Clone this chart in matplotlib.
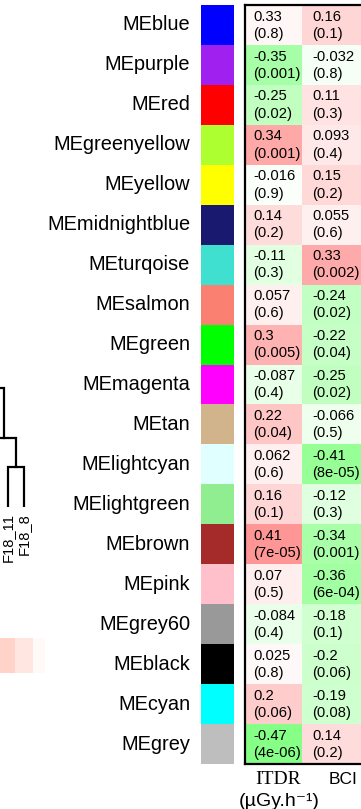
import matplotlib
matplotlib.use("Agg")
import matplotlib.pyplot as plt
import numpy as np
from matplotlib.colors import LinearSegmentedColormap

plt.rcParams['font.family'] = ['Liberation Sans', 'DejaVu Sans']

# ---------------- data ----------------
modules = ["MEblue", "MEpurple", "MEred", "MEgreenyellow", "MEyellow",
           "MEmidnightblue", "MEturqoise", "MEsalmon", "MEgreen", "MEmagenta",
           "MEtan", "MElightcyan", "MElightgreen", "MEbrown", "MEpink",
           "MEgrey60", "MEblack", "MEcyan", "MEgrey"]
module_colors = ["#0000FF", "#A020F0", "#FF0000", "#ADFF2F", "#FFFF00",
                 "#191970", "#40E0D0", "#FA8072", "#00FF00", "#FF00FF",
                 "#D2B48C", "#E0FFFF", "#90EE90", "#A52A2A", "#FFC0CB",
                 "#999999", "#000000", "#00FFFF", "#BEBEBE"]
traits = ["ITDR", "BCI"]
# correlations used for the cell colours
itdr_r = [0.033, -0.35, -0.25, 0.34, -0.016, 0.14, -0.11, 0.057, 0.3, -0.087,
          0.22, 0.062, 0.16, 0.41, 0.07, -0.084, 0.025, 0.2, -0.47]
bci_r = [0.16, -0.032, 0.11, 0.093, 0.15, 0.055, 0.33, -0.24, -0.22, -0.25,
         -0.066, -0.41, -0.12, -0.34, -0.36, -0.18, -0.2, -0.19, 0.14]
# labels as printed in the cells
itdr_r_label = ["0.33", "-0.35", "-0.25", "0.34", "-0.016", "0.14", "-0.11",
                "0.057", "0.3", "-0.087", "0.22", "0.062", "0.16", "0.41",
                "0.07", "-0.084", "0.025", "0.2", "-0.47"]
bci_r_label = ["0.16", "-0.032", "0.11", "0.093", "0.15", "0.055", "0.33",
               "-0.24", "-0.22", "-0.25", "-0.066", "-0.41", "-0.12", "-0.34",
               "-0.36", "-0.18", "-0.2", "-0.19", "0.14"]
itdr_p = ["0.8", "0.001", "0.02", "0.001", "0.9", "0.2", "0.3", "0.6", "0.005",
          "0.4", "0.04", "0.6", "0.1", "7e-05", "0.5", "0.4", "0.8", "0.06",
          "4e-06"]
bci_p = ["0.1", "0.8", "0.3", "0.4", "0.2", "0.6", "0.002", "0.02", "0.04",
         "0.02", "0.5", "8e-05", "0.3", "0.001", "6e-04", "0.1", "0.06", "0.08",
         "0.2"]
unit_label = "(µGy.h⁻¹)"

# dendrogram fragment (left edge): leaves and merge heights
leaf_names = ["F18_11", "F18_8"]
merge_heights = [40, 69, 119]
# fragment of the sample heatmap (bottom-left)
sample_vals = [0.30, 0.17, 0.04]

# ---------------- figure ----------------
W, H = 361, 809
fig = plt.figure(figsize=(W / 100, H / 100), dpi=100)


def px_axes(x0, x1, y0, y1):
    return fig.add_axes([x0 / W, 1 - y1 / H, (x1 - x0) / W, (y1 - y0) / H])


n = len(modules)
top, bot = 5, 764

# colour swatches
axc = px_axes(201, 234, top, bot)
for i, c in enumerate(module_colors):
    axc.fill_between([0, 1], i, i + 1, color=c, lw=0)
axc.set_xlim(0, 1)
axc.set_ylim(n, 0)
axc.axis("off")

# module labels
for i, m in enumerate(modules):
    axc.text(-0.33, i + 0.5, m, ha="right", va="center", fontsize=14.4,
             transform=axc.transData, clip_on=False)

# heatmap
axh = px_axes(245, 375, top, bot)
cmap = LinearSegmentedColormap.from_list("gwr", ["#00FF00", "#FFFFFF", "#FF0000"])
vals = np.column_stack([itdr_r, bci_r])
xedges = [0, 57, 130]
axh.pcolormesh(xedges, np.arange(n + 1), vals, cmap=cmap, vmin=-1, vmax=1,
               shading="flat")
axh.set_xlim(0, 130)
axh.set_ylim(n, 0)
axh.set_xticks([])
axh.set_yticks([])
for s in axh.spines.values():
    s.set_linewidth(1.6)
text_x = [8, 67]
labels_r = [itdr_r_label, bci_r_label]
labels_p = [itdr_p, bci_p]
for j in range(2):
    for i in range(n):
        axh.text(text_x[j], i + 0.29, labels_r[j][i], ha="left", va="center",
                 fontsize=10.6)
        axh.text(text_x[j], i + 0.72, "(" + labels_p[j][i] + ")", ha="left",
                 va="center", fontsize=10.6)

# column labels
fig.text(278 / W, 1 - 779 / H, traits[0], ha="center", va="center",
         fontsize=14, family=["Liberation Serif", "DejaVu Serif"])
fig.text(343 / W, 1 - 779 / H, traits[1], ha="center", va="center",
         fontsize=12.5)
fig.text(279 / W, 1 - 802 / H, unit_label, ha="center", va="center",
         fontsize=14)

# dendrogram fragment
axd = px_axes(-40, 40, 380, 507)
axd.set_xlim(-3, 2)
axd.set_ylim(0, 127)
axd.axis("off")
lw = 1.6
xl = [0.0, 1.0]
h1, h2, h3 = merge_heights
# first merge of the two leaves
axd.plot([xl[0], xl[0], xl[1], xl[1]], [0, h1, h1, 0], color="black", lw=lw,
         solid_joinstyle="miter")
m1 = (xl[0] + xl[1]) / 2
# second merge with a neighbour on the left
axd.plot([-1, -1, m1, m1], [0, h2, h2, h1], color="black", lw=lw,
         solid_joinstyle="miter")
m2 = (-1 + m1) / 2
axd.plot([-3, m2, m2], [h3, h3, h2], color="black", lw=lw,
         solid_joinstyle="miter", clip_on=False)
for x, name in zip(xl, leaf_names):
    axd.text(x, -6, name, rotation=90, ha="center", va="top", fontsize=10.6,
             clip_on=False)

# sample heatmap fragment
axs = px_axes(-3, 45, 638, 673)
cmap2 = LinearSegmentedColormap.from_list("wr", ["#FFFFFF", "#FF6A4A"])
axs.pcolormesh([-3, 15, 33, 45], [0, 1], np.array([sample_vals]), cmap=cmap2,
               vmin=0, vmax=1, shading="flat")
axs.set_xlim(-3, 45)
axs.set_ylim(0, 1)
axs.axis("off")

fig.savefig("out.png", dpi=100)
